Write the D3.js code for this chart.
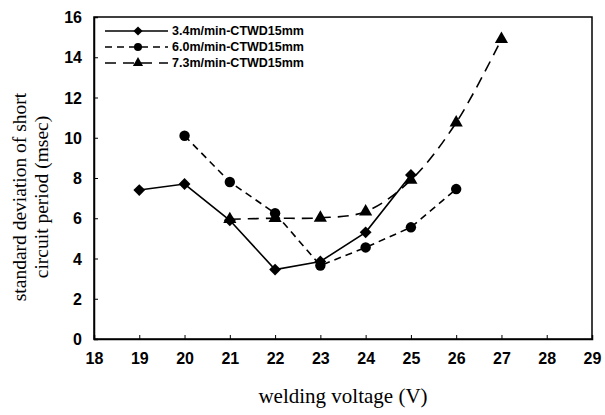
<!DOCTYPE html>
<html>
<head>
<meta charset="utf-8">
<script src="https://cdn.jsdelivr.net/npm/d3@7"></script>
<style>
  body { margin: 0; background: #fff; }
  svg { display: block; }
</style>
</head>
<body>
<div id="chart"></div>
<script>
// Values
const voltages34 = [19, 20, 21, 22, 23, 24, 25];
const values34 = [7.4, 7.7, 5.9, 3.45, 3.85, 5.3, 8.15];
const voltages60 = [20, 21, 22, 23, 24, 25, 26];
const values60 = [10.1, 7.8, 6.25, 3.65, 4.55, 5.55, 7.45];
const voltages73 = [21, 22, 23, 24, 25, 26, 27];
const values73 = [5.95, 6.0, 6.02, 6.33, 7.9, 10.75, 14.9];
const seriesNames = ['3.4m/min-CTWD15mm', '6.0m/min-CTWD15mm', '7.3m/min-CTWD15mm'];
const xTicks = [18, 19, 20, 21, 22, 23, 24, 25, 26, 27, 28, 29];
const yTicks = [0, 2, 4, 6, 8, 10, 12, 14, 16];

const width = 605, height = 415;
const margin = { top: 17, right: 13, bottom: 76, left: 94 };

const svg = d3.select('#chart').append('svg')
    .attr('width', width)
    .attr('height', height);

const x = d3.scaleLinear().domain([18, 29]).range([margin.left, width - margin.right]);
const y = d3.scaleLinear().domain([0, 16]).range([height - margin.bottom, margin.top]);

// Plot frame
svg.append('rect')
    .attr('x', x(18)).attr('y', y(16))
    .attr('width', x(29) - x(18)).attr('height', y(0) - y(16))
    .attr('fill', 'none').attr('stroke', '#000').attr('stroke-width', 1.5);

// Axes with inward ticks
const xAxis = svg.append('g')
    .attr('transform', `translate(0,${y(0)})`)
    .call(d3.axisBottom(x).tickValues(xTicks).tickSize(-4).tickPadding(14).tickFormat(d3.format('d')));
const yAxis = svg.append('g')
    .attr('transform', `translate(${x(18)},0)`)
    .call(d3.axisLeft(y).tickValues(yTicks).tickSize(-4).tickPadding(12).tickFormat(d3.format('d')));

[xAxis, yAxis].forEach(a => {
    a.select('.domain').attr('stroke-width', 1.5);
    a.selectAll('.tick line').attr('stroke-width', 1);
    a.selectAll('text')
        .style('font-family', '"Liberation Sans", Arial, sans-serif')
        .style('font-weight', 'bold')
        .style('font-size', '16px')
        .attr('fill', '#000');
});
yAxis.selectAll('text').attr('dy', '0.35em');

// Axis titles
svg.append('text')
    .attr('x', (x(18) + x(29)) / 2)
    .attr('y', 403)
    .attr('text-anchor', 'middle')
    .style('font-family', '"Liberation Serif", "Times New Roman", serif')
    .style('font-size', '21px')
    .text('welding voltage (V)');

const yTitle = svg.append('text')
    .attr('transform', 'translate(0,197) rotate(-90)')
    .attr('text-anchor', 'middle')
    .style('font-family', '"Liberation Serif", "Times New Roman", serif')
    .style('font-size', '19.5px');
yTitle.append('tspan').attr('x', 0).attr('y', 26).text('standard deviation of short');
yTitle.append('tspan').attr('x', 0).attr('y', 48).text('circuit period (msec)');

// Series
const diamond = { draw(ctx, size) { const r = Math.sqrt(size / 2); ctx.moveTo(0, -r); ctx.lineTo(r, 0); ctx.lineTo(0, r); ctx.lineTo(-r, 0); ctx.closePath(); } };
const series = [
    { name: seriesNames[0], xs: voltages34, ys: values34, dash: null, marker: diamond, size: 70, curve: d3.curveLinear },
    { name: seriesNames[1], xs: voltages60, ys: values60, dash: '7,5', marker: d3.symbolCircle, size: 85, curve: d3.curveLinear },
    { name: seriesNames[2], xs: voltages73, ys: values73, dash: '11,7', marker: d3.symbolTriangle, size: 75, curve: d3.curveCatmullRom }
];

series.forEach(s => {
    const pts = s.xs.map((v, i) => [v, s.ys[i]]);
    const line = d3.line().x(d => x(d[0])).y(d => y(d[1])).curve(s.curve);
    svg.append('path')
        .datum(pts)
        .attr('d', line)
        .attr('fill', 'none')
        .attr('stroke', '#000')
        .attr('stroke-width', 1.6)
        .attr('stroke-dasharray', s.dash);
    svg.selectAll(null)
        .data(pts)
        .join('path')
        .attr('transform', d => `translate(${x(d[0])},${y(d[1])})`)
        .attr('d', d3.symbol().type(s.marker).size(s.size))
        .attr('fill', '#000');
});

// Legend
const legend = svg.append('g').attr('transform', 'translate(105,31)');
const rows = legend.selectAll('g')
    .data(series)
    .join('g')
    .attr('transform', (d, i) => `translate(0,${i * 16})`);
rows.append('line')
    .attr('x1', 0).attr('x2', 63)
    .attr('stroke', '#000').attr('stroke-width', 1.6)
    .attr('stroke-dasharray', d => d.dash);
rows.append('path')
    .attr('transform', 'translate(33,0)')
    .attr('d', d => d3.symbol().type(d.marker).size(d.size * 0.6)())
    .attr('fill', '#000');
rows.append('text')
    .attr('x', 67)
    .attr('dy', '0.35em')
    .style('font-family', '"Liberation Sans", Arial, sans-serif')
    .style('font-weight', 'bold')
    .style('font-size', '12.5px')
    .text(d => d.name);
</script>
</body>
</html>
